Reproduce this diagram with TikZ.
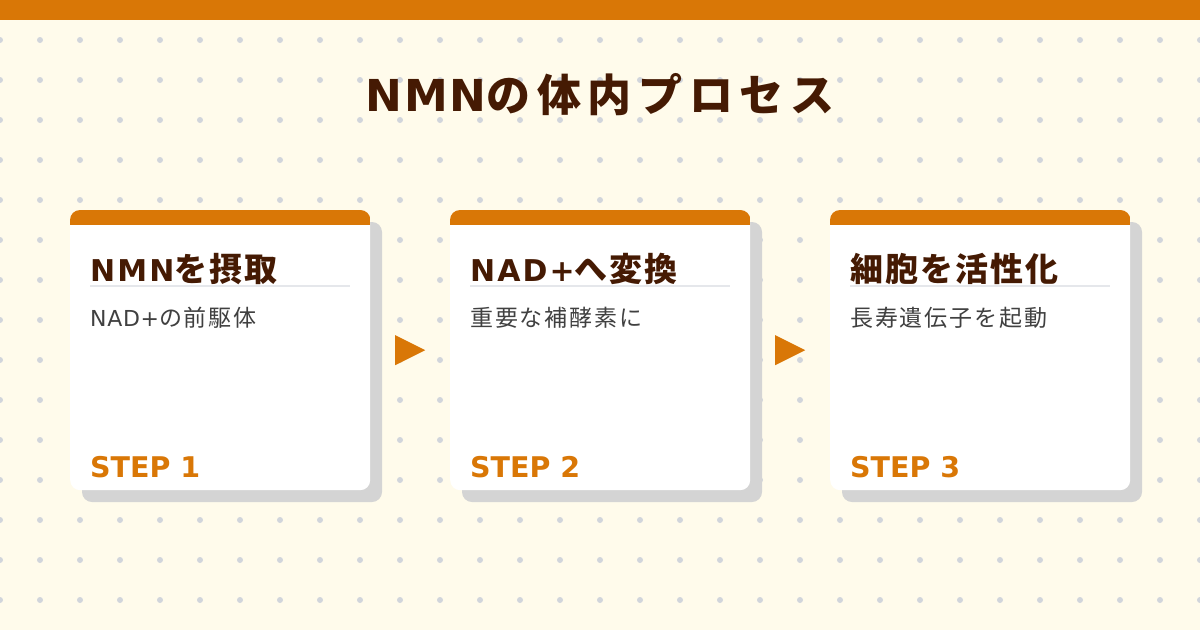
\documentclass[tikz,border=0pt]{standalone}
\usepackage{fontspec}
\setmainfont{Noto Sans CJK JP}
\newfontfamily\ttla{DejaVu Sans}[LetterSpace=4]
\newfontfamily\ttja{Noto Sans CJK JP}[LetterSpace=15]
\newfontfamily\ctla{DejaVu Sans}[LetterSpace=7]
\newfontfamily\ctja{Noto Sans CJK JP}[LetterSpace=6]
\newfontfamily\sbla{DejaVu Sans}[LetterSpace=3]
\newfontfamily\sbja{Noto Sans CJK JP}[LetterSpace=8]
\newfontfamily\stla{DejaVu Sans}
\usetikzlibrary{calc}
\definecolor{bgc}{HTML}{FFFBEB}
\definecolor{dotc}{HTML}{D1D5DB}
\definecolor{orangec}{HTML}{D97706}
\definecolor{brownc}{HTML}{451A03}
\definecolor{shadowc}{HTML}{D4D4D4}
\definecolor{divc}{HTML}{E5E7EB}
\definecolor{subc}{HTML}{404040}
\newcommand{\ctl}[1]{{\ctla\fontsize{30}{36}\selectfont #1}}
\newcommand{\ctj}[1]{{\ctja\fontsize{33}{38}\selectfont #1}}
\newcommand{\sbl}[1]{{\sbla\fontsize{22}{26}\selectfont #1}}
\newcommand{\sbj}[1]{{\sbja\fontsize{23}{27}\selectfont #1}}
\begin{document}
\begin{tikzpicture}[x=1pt,y=-1pt,
  cardbox/.style={fill=white, rounded corners=10pt, minimum width=300pt, minimum height=280pt, anchor=north west, inner sep=0pt},
  cardtitle/.style={anchor=base west, inner sep=0pt, text=brownc, font=\bfseries},
  cardsub/.style={anchor=base west, inner sep=0pt, text=subc},
  steplabel/.style={anchor=base west, inner sep=0pt, text=orangec, font=\stla\fontsize{28.5}{32}\selectfont\bfseries},
  arrowtri/.style={fill=orangec}]
\useasboundingbox (0,0) rectangle (1200,630);
\fill[bgc] (0,0) rectangle (1200,630);
\foreach \gx in {0,40,...,1200}
  \foreach \gy in {40,80,...,600}
    \fill[dotc] (\gx,\gy) circle (3);
\fill[orangec] (0,0) rectangle (1200,20);
\node[anchor=base, inner sep=0pt, text=brownc, font=\fontsize{44}{50}\selectfont\bfseries] (title) at (600,111) {{\ttla NMN}{\ttja の体内プロセス}};
\foreach \i/\x in {1/70, 2/450, 3/830} {
  \fill[shadowc, rounded corners=10pt] (\x+12,222) rectangle (\x+312,502);
  \node[cardbox] (card\i) at (\x,210) {};
  \begin{scope}
    \clip[rounded corners=10pt] (card\i.north west) rectangle (card\i.south east);
    \fill[orangec] (card\i.north west) rectangle ([yshift=-15pt]card\i.north east);
  \end{scope}
  \draw[divc, line width=2pt] ([xshift=20pt,yshift=-76pt]card\i.north west) -- ([xshift=-20pt,yshift=-76pt]card\i.north east);
  \node[steplabel] (st\i) at ([xshift=20pt,yshift=13pt]card\i.south west) {STEP \i};
}
\node[cardtitle] (t1) at ([xshift=20pt,yshift=-71pt]card1.north west) {\ctl{NMN}\ctj{を摂取}};
\node[cardtitle] (t2) at ([xshift=20pt,yshift=-71pt]card2.north west) {\ctl{NAD+}\ctj{へ変換}};
\node[cardtitle] (t3) at ([xshift=20pt,yshift=-71pt]card3.north west) {\ctj{細胞を活性化}};
\node[cardsub] (s1) at ([xshift=20pt,yshift=-116pt]card1.north west) {\sbl{NAD+}\sbj{の前駆体}};
\node[cardsub] (s2) at ([xshift=20pt,yshift=-116pt]card2.north west) {\sbj{重要な補酵素に}};
\node[cardsub] (s3) at ([xshift=20pt,yshift=-116pt]card3.north west) {\sbj{長寿遺伝子を起動}};
\fill[arrowtri] ($(card1.east)!0.5!(card2.west)+(-15,-15)$) -- ++(30,15) -- ++(-30,15) -- cycle;
\fill[arrowtri] ($(card2.east)!0.5!(card3.west)+(-15,-15)$) -- ++(30,15) -- ++(-30,15) -- cycle;
\end{tikzpicture}
\end{document}
